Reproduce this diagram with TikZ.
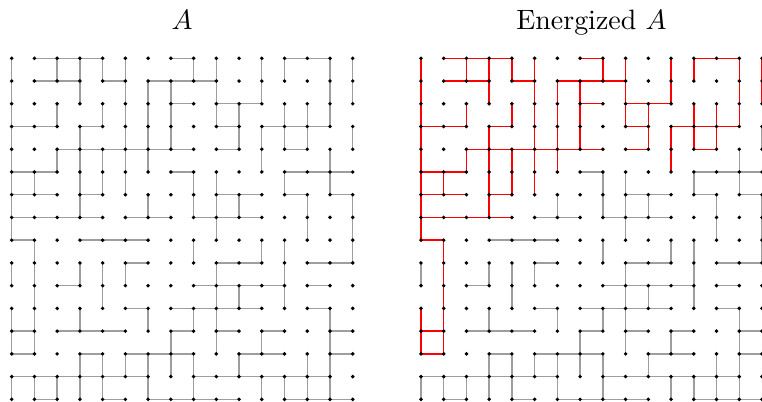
\documentclass[tikz,border=0pt]{standalone}
\usepackage{amsmath}
\usepackage{xcolor}
\usepackage{tikz}

% edge lists, r/c means (r,c)--(r,c+1) for H and (r,c)--(r+1,c) for V
\def\hotH{0/1,0/2,0/3,0/7,0/12,0/13,1/1,1/2,1/4,1/6,1/7,1/8,2/7,2/9,2/10,3/0,3/1,3/3,3/9,3/11,3/12,3/13,4/2,4/3,4/4,4/5,4/6,4/7,4/9,4/12,5/0,5/1,6/0,6/1,6/3,7/0,7/1,7/2,7/3,8/0,12/0,13/0}
\def\coldH{5/7,5/12,5/13,5/14,6/9,6/10,6/12,6/14,7/5,7/6,7/8,7/9,7/10,8/3,8/4,8/5,9/5,9/9,9/10,9/13,9/14,10/2,10/8,10/9,10/10,10/11,10/13,11/5,11/7,11/8,11/9,11/10,11/13,12/2,12/3,12/4,12/7,12/9,12/11,12/14,13/3,13/5,13/6,13/7,13/10,13/11,13/14,14/0,14/1,14/2,14/3,14/4,14/5,14/8,14/9,14/10,14/11,14/12,14/13,15/1,15/4,15/6,15/7,15/8,15/9,15/12,15/13,15/14}
\def\hotV{0/0,1/0,2/0,3/0,4/0,5/0,6/0,7/0,11/0,12/0,5/1,8/1,9/1,10/1,11/1,12/1,0/2,2/2,4/2,0/3,1/3,3/3,4/3,5/3,6/3,0/4,2/4,4/4,5/4,0/5,1/5,2/5,3/5,4/5,5/5,1/6,2/6,3/6,4/6,1/7,2/7,3/7,0/8,0/9,1/9,2/9,2/10,3/10,0/11,1/11,3/11,4/11,0/12,2/12,3/12,2/13,3/13,0/14,1/14,2/14,0/15,1/15}
\def\coldV{9/0,14/0,14/1,14/2,9/3,11/3,13/3,14/3,9/4,10/4,13/4,14/4,9/5,13/5,6/6,11/6,13/6,14/6,12/7,13/7,5/8,6/8,8/8,11/8,13/8,14/8,5/9,6/9,7/9,9/9,10/9,11/9,12/9,6/10,10/10,13/10,8/11,12/11,14/11,5/12,8/12,9/12,10/12,14/12,6/13,7/13,13/13,14/13,4/14,5/14,11/14,12/14,13/14,14/14,3/15,6/15,7/15,8/15}

\begin{document}
\begin{tikzpicture}[
    x=0.2857cm,
    y=0.2857cm,
    edge/.style={
        line width=0.5pt,
        black!38
    },
    hot/.style={
        line width=0.5pt,
        red
    },
    site/.style={
        fill=black
    }
]

\useasboundingbox (-0.514,-15.075) rectangle (33,2.564);

% ==================================================
% Titles
% ==================================================

\node[anchor=base] (titleA) at (7.5,1.275) {$A$};
\node[anchor=base] (titleE) at (25.5,1.275) {Energized $A$};

% ==================================================
% Lattice sites
% ==================================================

\foreach \r in {0,...,15}{
    \foreach \c in {0,...,15}{
        \coordinate (L-\r-\c) at (\c,-\r);
        \coordinate (R-\r-\c) at (\c+18,-\r);
    }
}

% ==================================================
% Bonds
% ==================================================

% Horizontal
\foreach \r/\c in \hotH {
    \pgfmathtruncatemacro{\cc}{\c+1}
    \draw[edge] (L-\r-\c) -- (L-\r-\cc);
    \draw[hot] (R-\r-\c) -- (R-\r-\cc);
}
\foreach \r/\c in \coldH {
    \pgfmathtruncatemacro{\cc}{\c+1}
    \draw[edge] (L-\r-\c) -- (L-\r-\cc);
    \draw[edge] (R-\r-\c) -- (R-\r-\cc);
}

% Vertical
\foreach \r/\c in \hotV {
    \pgfmathtruncatemacro{\rr}{\r+1}
    \draw[edge] (L-\r-\c) -- (L-\rr-\c);
    \draw[hot] (R-\r-\c) -- (R-\rr-\c);
}
\foreach \r/\c in \coldV {
    \pgfmathtruncatemacro{\rr}{\r+1}
    \draw[edge] (L-\r-\c) -- (L-\rr-\c);
    \draw[edge] (R-\r-\c) -- (R-\rr-\c);
}

% ==================================================
% Dots on top
% ==================================================

\foreach \r in {0,...,15}{
    \foreach \c in {0,...,15}{
        \fill[site] (L-\r-\c) circle (0.7pt);
        \fill[site] (R-\r-\c) circle (0.7pt);
    }
}

\end{tikzpicture}
\end{document}
